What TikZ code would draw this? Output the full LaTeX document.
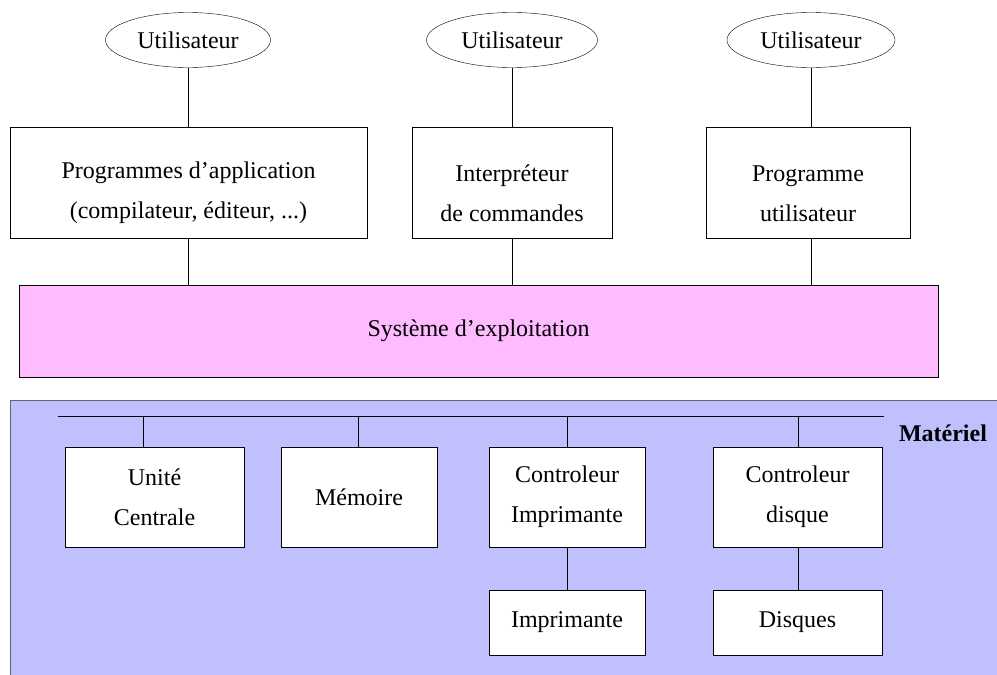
\documentclass[tikz,border=0pt]{standalone}
\usepackage{fontspec}
\setmainfont{Liberation Serif}
\usetikzlibrary{shapes, shadows, positioning, calc}
\definecolor{osColor}{HTML}{FFBBFF}
\definecolor{hwColor}{HTML}{C0C0FF}
\colorlet{drawColor}{black}
\newcommand{\vpad}{\rule{0pt}{38pt}}
\tikzstyle{every node}=[font=\fontsize{24}{40}\selectfont]
\tikzstyle{oval}=[ellipse, draw=drawColor, fill=white, inner sep=0pt]
\tikzstyle{box}=[rectangle, align=center, draw=drawColor, fill=white,
  drop shadow={shadow xshift=1pt, shadow yshift=-1pt, fill=black!45, opacity=1}]
\tikzstyle{link}=[-, thin, draw=drawColor]

\begin{document}
\begin{tikzpicture}[x=1pt, y=-1pt]
      \clip (0,0) rectangle (997,675);
      \fill[white] (0,0) rectangle (997,675);
      % materiel
      \draw[fill=hwColor, draw=black!60, thick] (10,400) rectangle (1020,700);
      \node(hw) at (943,433) [anchor=center] {\bfseries Matériel};
      % utilisateurs
      \node(u1) at (188,40) [oval, minimum width=165, minimum height=55] {Utilisateur};
      \node(u2) at (512,40) [oval, minimum width=171, minimum height=55] {Utilisateur};
      \node(u3) at (811,40) [oval, minimum width=168, minimum height=55] {Utilisateur};
      \node(p1) at (188.5,182.5) [box, minimum width=357, minimum height=111]
        {\vpad Programmes d'application\\(compilateur, éditeur, ...)};
      \node(p2) at (512,182.5) [box, minimum width=200, minimum height=111]
        {\vpad Interpréteur\\de commandes};
      \node(p3) at (808,182.5) [box, minimum width=204, minimum height=111]
        {\vpad Programme\\utilisateur};
      \node(os) at (478.5,331) [box, fill=osColor, minimum width=919, minimum height=92]
        {Système d'exploitation};
      % bus
      \coordinate(busl) at (58,416);
      \coordinate(busr) at (884,416);
      \coordinate(b1) at (143,416);
      \coordinate(b2) at (358,416);
      \coordinate(b3) at (567,416);
      \coordinate(b4) at (798,416);
      \node(uc) at (154.5,497) [box, minimum width=179, minimum height=100]
        {Unité\\Centrale};
      \node(mem) at (359,497) [box, minimum width=156, minimum height=100] {Mémoire};
      \node(ci) at (567,497) [box, minimum width=156, minimum height=100]
        {Controleur\\Imprimante};
      \node(cd) at (797.5,497) [box, minimum width=169, minimum height=100]
        {Controleur\\disque};
      \node(imp) at (567,622.5) [box, minimum width=156, minimum height=65] {Imprimante};
      \node(dsk) at (797.5,622.5) [box, minimum width=169, minimum height=65] {Disques};
      \draw[link] (u1) -- (u1.south |- p1.north);
      \draw[link] (u2) -- (p2);
      \draw[link] (u3) -- (u3.south |- p3.north);
      \draw[link] (p1) -- (p1.south |- os.north);
      \draw[link] (p2) -- (p2.south |- os.north);
      \draw[link] (u3.south |- p3.south) -- (u3.south |- os.north);
      \draw[link] (busl) -- (busr);
      \draw[link] (b1) -- (b1 |- uc.north);
      \draw[link] (b2) -- (b2 |- mem.north);
      \draw[link] (b3) -- (ci);
      \draw[link] (b4) -- (b4 |- cd.north);
      \draw[link] (ci) -- (imp);
      \draw[link] (b4 |- cd.south) -- (b4 |- dsk.north);
    \end{tikzpicture}
\end{document}
